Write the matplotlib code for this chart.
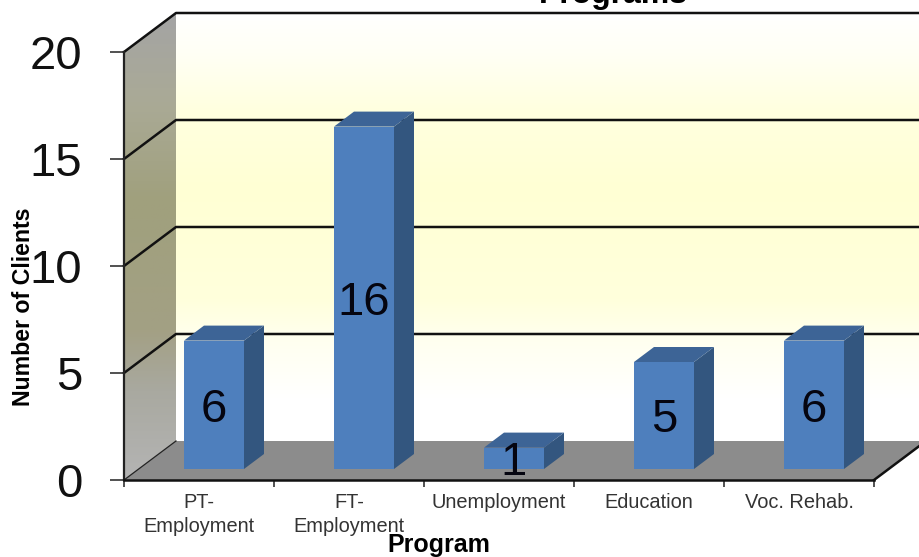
import numpy as np
import matplotlib
matplotlib.use("Agg")
from matplotlib import pyplot as plt
from matplotlib.colors import LinearSegmentedColormap
from matplotlib.patches import Polygon

plt.rcParams['font.family'] = ['Liberation Sans', 'DejaVu Sans']

categories = ['PT-\nEmployment', 'FT-\nEmployment', 'Unemployment', 'Education', 'Voc. Rehab.']
clients = [6, 16, 1, 5, 6]
y_ticks = [0, 5, 10, 15, 20]

W, H = 920, 557
fig = plt.figure(figsize=(W / 100, H / 100), dpi=100)
ax = fig.add_axes([124 / W, (H - 480) / H, 750 / W, 428 / H])
ax.patch.set_visible(False)

# depth of the box and of the bars, in data units (1 category = 150px, 1 client = 21.4px)
px_x = 1 / 150
px_y = 1 / 21.4
dx, dy = 52 * px_x, 39 * px_y
bar_dx, bar_dy = 20 * px_x, 15 * px_y
off_x, off_y = 15 * px_x, 11 * px_y
bar_w = 60 * px_x

# back wall
wall_cmap = LinearSegmentedColormap.from_list('wall', [
    (0.0, '#ffffff'), (0.1, '#fffff4'), (0.22, '#ffffe0'), (0.41, '#ffffd4'),
    (0.67, '#ffffdc'), (0.77, '#fffff0'), (0.9, '#ffffff'), (1.0, '#ffffff')])
grad = np.linspace(0, 1, 256).reshape(-1, 1)
wall = ax.imshow(grad, cmap=wall_cmap, aspect='auto', zorder=1,
                 extent=[dx, 5 + dx, dy, 20 + dy])
wall.set_clip_on(False)

# left side wall
side_cmap = LinearSegmentedColormap.from_list('side', [
    (0.0, '#a4a4a4'), (0.19, '#aaaa96'), (0.4, '#a0a07d'), (0.68, '#a3a084'),
    (0.81, '#a9a9a0'), (1.0, '#b4b4b4')])
side = ax.imshow(grad, cmap=side_cmap, aspect='auto', zorder=1,
                 extent=[0, dx, 0, 20 + dy])
side_shape = Polygon([(0, 0), (dx, dy), (dx, 20 + dy), (0, 20)],
                     closed=True, transform=ax.transData, fc='none', ec='none')
ax.add_patch(side_shape)
side.set_clip_box(fig.bbox)
side.set_clip_path(side_shape)

# floor
ax.add_patch(Polygon([(0, 0), (dx, dy), (5 + dx, dy), (5, 0)], closed=True, fc='#8c8c8c',
                     ec='none', zorder=2, clip_on=False))

# gridlines run across the side wall and along the back wall
for v in y_ticks[1:]:
    ax.plot([0, dx, 5 + dx], [v, v + dy, v + dy], color='#111111', lw=1.8, zorder=2, clip_on=False)
ax.plot([0, dx], [0, dy], color='#222222', lw=0.9, zorder=3, clip_on=False)
ax.plot([5, 5 + dx], [0, dy], color='#111111', lw=1.8, zorder=3, clip_on=False)

# bars
x = np.arange(len(clients)) + 0.5 + off_x
ax.bar(x, clients, width=bar_w, bottom=off_y, color='#4e7fbd', lw=0, zorder=4)
for xc, v in zip(x, clients):
    left, right = xc - bar_w / 2, xc + bar_w / 2
    top = v + off_y
    ax.add_patch(Polygon([(right, off_y), (right + bar_dx, off_y + bar_dy),
                          (right + bar_dx, top + bar_dy), (right, top)],
                         closed=True, fc='#33567f', ec='none', zorder=4))
    ax.add_patch(Polygon([(left, top), (left + bar_dx, top + bar_dy),
                          (right + bar_dx, top + bar_dy), (right, top)],
                         closed=True, fc='#3d6496', ec='none', zorder=4))
    ax.text(xc, off_y + v / 2, str(v), ha='center', va='center_baseline', fontsize=34,
            color='#050510', zorder=5)

ax.set_xlim(0, 5)
ax.set_ylim(0, 20)
ax.set_yticks(y_ticks)
ax.set_xticks(range(6))
ax.set_xticklabels([])
ax.set_xticks(np.arange(5) + 0.5, categories, minor=True, fontsize=14.4, color='#333333',
              linespacing=1.35)
ax.tick_params(axis='x', which='minor', length=0, pad=9)
ax.tick_params(axis='x', which='major', length=5, width=1.1, color='#222222')
ax.tick_params(axis='y', length=10, width=1.1, color='#222222', pad=20, labelsize=34,
               labelcolor='#111111')
for t in ax.get_yticklabels():
    t.set_verticalalignment('center_baseline')

for s in ['top', 'right']:
    ax.spines[s].set_visible(False)
ax.spines['left'].set_linewidth(1.6)
ax.spines['bottom'].set_linewidth(1.8)
ax.spines['left'].set_color('#222222')
ax.spines['bottom'].set_color('#111111')
ax.spines['left'].set_zorder(6)
ax.spines['bottom'].set_zorder(6)

fig.text(439 / W, (H - 545) / H, 'Program', ha='center', va='center', fontsize=18, fontweight='bold')
fig.text(24 / W, (H - 307) / H, 'Number of Clients', ha='center', va='center', rotation=90,
         fontsize=16.7, fontweight='bold')
fig.text(613 / W, (H - 3) / H, 'Programs', ha='center', va='baseline', fontsize=23,
         fontweight='bold')

fig.savefig('out.png', dpi=100)
